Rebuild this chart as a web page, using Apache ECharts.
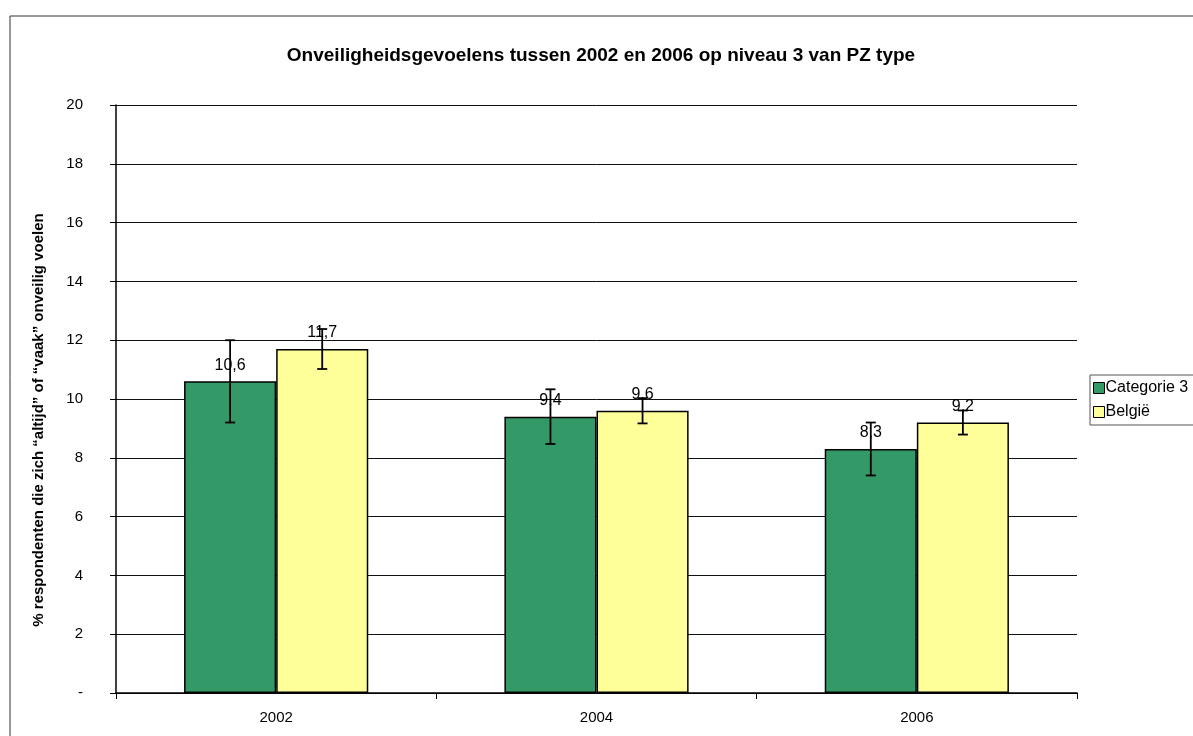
<!DOCTYPE html>
<html>
<head>
<meta charset="UTF-8">
<title>Onveiligheidsgevoelens</title>
<script src="https://cdn.jsdelivr.net/npm/echarts@6/dist/echarts.min.js"></script>
<style>
  html, body { margin: 0; padding: 0; background: #fff; }
  #chart { width: 1193px; height: 736px; }
</style>
</head>
<body>
<div id="chart"></div>
<script>
// data
var years = ['2002', '2004', '2006'];
var cat3Values = [10.6, 9.4, 8.3];
var belgieValues = [11.7, 9.6, 9.2];
// error bar half-widths (estimated)
var cat3Err = [1.4, 0.93, 0.9];
var belgieErr = [0.68, 0.43, 0.41];
var yTicks = [0, 2, 4, 6, 8, 10, 12, 14, 16, 18, 20];

var fontFam = '"Liberation Sans", Arial, sans-serif';
var chart = echarts.init(document.getElementById('chart'));

function fmtComma(v) {
    return String(v).replace('.', ',');
}

// error bars drawn through the category axis; side -1 = left bar, +1 = right bar
function errSeries(values, errs, side) {
    var d = [];
    for (var i = 0; i < values.length; i++) {
        d.push([i, values[i], errs[i]]);
    }
    return {
        type: 'custom',
        z: 10,
        silent: true,
        data: d,
        renderItem: function (params, api) {
            var band = api.size([1, 0])[0];
            var barW = band * (1 - 0.425) / 2;
            var c = api.coord([api.value(0), api.value(1)]);
            var x = c[0] + side * barW / 2;
            var hi = api.coord([api.value(0), api.value(1) + api.value(2)])[1];
            var lo = api.coord([api.value(0), api.value(1) - api.value(2)])[1];
            var st = { stroke: '#000', lineWidth: 1.8 };
            return {
                type: 'group',
                children: [
                    { type: 'line', shape: { x1: x, y1: hi, x2: x, y2: lo }, style: st },
                    { type: 'line', shape: { x1: x - 5, y1: hi, x2: x + 5, y2: hi }, style: st },
                    { type: 'line', shape: { x1: x - 5, y1: lo, x2: x + 5, y2: lo }, style: st }
                ]
            };
        }
    };
}

var labelOpt = {
    show: true,
    position: 'top',
    distance: 8,
    color: '#000',
    fontSize: 16,
    fontFamily: fontFam,
    formatter: function (p) { return fmtComma(p.value); }
};

var option = {
    animation: false,
    backgroundColor: '#fff',
    textStyle: { fontFamily: fontFam },
    graphic: [{
        type: 'rect',
        shape: { x: 10, y: 16, width: 1200, height: 740 },
        style: { fill: 'none', stroke: '#333', lineWidth: 1 },
        silent: true
    }],
    title: {
        text: 'Onveiligheidsgevoelens tussen 2002 en 2006 op niveau 3 van PZ type',
        left: 596,
        textAlign: 'center',
        top: 41,
        textStyle: { fontFamily: fontFam, fontSize: 19, fontWeight: 'bold', color: '#000' }
    },
    legend: {
        orient: 'vertical',
        left: 1090,
        top: 375,
        icon: 'rect',
        itemWidth: 11,
        itemHeight: 11,
        itemGap: 8,
        padding: [5, 30, 5, 3],
        borderColor: '#555',
        borderWidth: 1,
        itemStyle: { borderColor: '#000', borderWidth: 1 },
        textStyle: { fontFamily: fontFam, fontSize: 16, color: '#000', padding: [0, 0, 0, -4] },
        data: ['Categorie 3', 'België']
    },
    grid: { left: 116, right: 116, top: 105, bottom: 43 },
    xAxis: {
        type: 'category',
        data: years,
        axisLine: { lineStyle: { color: '#000', width: 1.5 } },
        axisTick: { show: true, alignWithLabel: false, length: 6, lineStyle: { color: '#000' } },
        axisLabel: { color: '#000', fontSize: 15, margin: 17, fontFamily: fontFam }
    },
    yAxis: {
        type: 'value',
        min: 0,
        max: 20,
        interval: 2,
        name: '% respondenten die zich \u201Caltijd\u201D of \u201Cvaak\u201D onveilig voelen',
        nameLocation: 'middle',
        nameGap: 70,
        nameTextStyle: {
            fontFamily: fontFam, fontSize: 15, fontWeight: 'bold', color: '#000',
            padding: [0, 42, 0, 0]
        },
        axisLine: { show: true, lineStyle: { color: '#000', width: 1.5 } },
        axisTick: { show: true, length: 6, lineStyle: { color: '#000' } },
        axisLabel: {
            color: '#000',
            fontSize: 15,
            margin: 33,
            align: 'right',
            fontFamily: fontFam,
            formatter: function (v) {
                if (yTicks.indexOf(v) < 0) return '';
                return v === 0 ? '-' : String(v);
            }
        },
        splitLine: { show: true, lineStyle: { color: '#111', width: 1 } }
    },
    series: [
        {
            name: 'Categorie 3',
            type: 'bar',
            data: cat3Values,
            barGap: '0%',
            barCategoryGap: '42.5%',
            itemStyle: { color: '#339966', borderColor: '#000', borderWidth: 1.5 },
            label: labelOpt
        },
        {
            name: 'België',
            type: 'bar',
            data: belgieValues,
            barGap: '0%',
            barCategoryGap: '42.5%',
            itemStyle: { color: '#FFFF99', borderColor: '#000', borderWidth: 1.5 },
            label: labelOpt
        },
        errSeries(cat3Values, cat3Err, -1),
        errSeries(belgieValues, belgieErr, 1)
    ]
};

chart.setOption(option);
</script>
</body>
</html>
